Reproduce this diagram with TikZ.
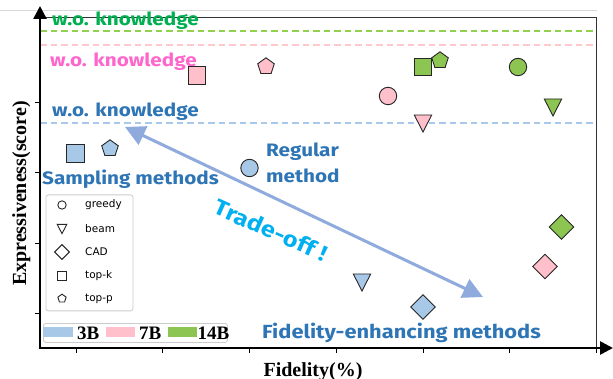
\documentclass[tikz,border=0pt]{standalone}
\usepackage{fontspec}
\setmainfont{Liberation Serif}
\newfontfamily\handf{Fira Sans Bold}[FakeStretch=1.15]
\newfontfamily\legf{DejaVu Sans}
\usetikzlibrary{arrows.meta}

\definecolor{kblue}{HTML}{2E75B6}
\definecolor{kgreen}{HTML}{00B050}
\definecolor{kpink}{HTML}{FF66CC}
\definecolor{kcyan}{HTML}{00B0F0}
\definecolor{fblue}{HTML}{A8C8E8}
\definecolor{fpink}{HTML}{FFC0CB}
\definecolor{fgreen}{HTML}{8DC553}
\definecolor{dgreen}{HTML}{92D050}
\definecolor{dpink}{HTML}{FFC7CE}
\definecolor{dblue}{HTML}{A9C9EC}
\definecolor{arrowc}{HTML}{8FAADC}

\tikzset{
  mk/.style={draw=black!85, line width=0.9},
  pics/mcirc/.style={code={\draw[mk,fill=#1] (0,0) circle (8.7);}},
  pics/msq/.style={code={\draw[mk,fill=#1] (-8.7,-8.7) rectangle (8.7,8.7);}},
  pics/mtri/.style={code={\draw[mk,fill=#1] (-8.7,-8.5) -- (8.7,-8.5) -- (0,8.5) -- cycle;}},
  pics/mdiam/.style={code={\draw[mk,fill=#1] (0,-12.3) -- (12.3,0) -- (0,12.3) -- (-12.3,0) -- cycle;}},
  pics/mpent/.style={code={\draw[mk,fill=#1] (-90:8.7) -- (-18:8.7) -- (54:8.7) -- (126:8.7) -- (198:8.7) -- cycle;}},
  hand/.style={font=\handf\fontsize{18}{21}\selectfont, inner sep=0pt},
  legtext/.style={font=\legf\fontsize{10.5}{12}\selectfont, anchor=west, inner sep=0pt},
  sizetext/.style={font=\bfseries\fontsize{19}{21}\selectfont, anchor=base west, inner sep=0pt},
  axlabel/.style={font=\bfseries\fontsize{20}{22}\selectfont, inner sep=0pt, anchor=base},
  refline/.style={dashed, dash pattern=on 6.5pt off 4pt, line width=1.3},
  tick/.style={line width=0.8, black},
  axis/.style={line width=2.6, black, -{Triangle[length=13,width=13]}},
  legbox/.style={draw=black!20, line width=0.8, rounded corners=2.5pt, anchor=north west, inner sep=0pt}
}

\begin{document}
\begin{tikzpicture}[x=1pt,y=-1pt]
\useasboundingbox (0,0) rectangle (613,379);
\fill[white] (0,0) rectangle (613,379);

% thin rule above the plot
\draw[black!15, line width=0.8] (0,10) -- (597,10);

% plot frame
\draw[black!80, line width=0.8] (40,17) rectangle (596,348);

% reference levels without knowledge
\draw[refline, dgreen] (40,31) -- (596,31);
\draw[refline, dpink] (40,45) -- (596,45);
\draw[refline, dblue] (40,123) -- (596,123);

\node[hand, text=kgreen, anchor=base west] (wg) at (52,26) {w.o. knowledge};
\node[hand, text=kpink, anchor=base west] (wp) at (50,67) {w.o. knowledge};
\node[hand, text=kblue, anchor=base west] (wb) at (52,117) {w.o. knowledge};

% ticks
\foreach \yy in {102,172,243,313} \draw[tick] (35,\yy) -- (40,\yy);
\foreach \xx in {76,162,249,336,423,509,596} \draw[tick] (\xx,348) -- (\xx,353);

% axes
\draw[axis] (40,349.3) -- (40,6);
\draw[axis] (38.7,348) -- (613,348);

% trade-off arrow
\coordinate (hiexp) at (125,127);
\coordinate (hifid) at (483,297);
\draw[arrowc, line width=3, {Triangle[length=20,width=20]}-{Triangle[length=20,width=20]}] (hiexp) -- (hifid);

% 3B
\pic (b3sq) at (75.5,153.5) {msq=fblue};
\pic (b3pe) at (110,148.5) {mpent=fblue};
\pic (b3ci) at (249.5,168) {mcirc=fblue};
\pic (b3tr) at (362,282.5) {mtri=fblue};
\pic (b3di) at (423,307) {mdiam=fblue};
% 7B
\pic (b7sq) at (197,75.5) {msq=fpink};
\pic (b7pe) at (266,66.5) {mpent=fpink};
\pic (b7ci) at (388,96) {mcirc=fpink};
\pic (b7tr) at (423,123.5) {mtri=fpink};
\pic (b7di) at (545,266.5) {mdiam=fpink};
% 14B
\pic (b14sq) at (423,67) {msq=fgreen};
\pic (b14pe) at (440,60.5) {mpent=fgreen};
\pic (b14ci) at (518,67) {mcirc=fgreen};
\pic (b14tr) at (553,107.5) {mtri=fgreen};
\pic (b14di) at (561.5,227) {mdiam=fgreen};

% annotations
\node[hand, text=kblue, anchor=base west] (samp) at (42,185) {Sampling methods};
\node[hand, text=kblue, anchor=base west] (reg1) at (266,157) {Regular};
\node[hand, text=kblue, anchor=base west] (reg2) at (266,183) {method};
\node[hand, text=kblue, anchor=base west, font=\handf\fontsize{19}{21}\selectfont] (fid) at (262,338) {Fidelity-enhancing methods};
\node[hand, text=kcyan, font=\handf\fontsize{22}{24}\selectfont, rotate=-24] (trade) at (271,230) {Trade-off !};

% marker legend
\node[legbox, minimum width=87pt, minimum height=116pt] (mleg) at (45.5,194.5) {};
\pic[scale=0.48] (lci) at (62,205) {mcirc=white};
\pic[scale=0.55] (ltr) at (62,229) {mtri=white};
\pic[scale=0.6] (ldi) at (62,252) {mdiam=white};
\pic[scale=0.52] (lsq) at (62,276) {msq=white};
\pic[scale=0.5] (lpe) at (62,298.5) {mpent=white};
\node[legtext] (tgreedy) at (85,205) {greedy};
\node[legtext] (tbeam) at (85,229) {beam};
\node[legtext] (tcad) at (85,252) {CAD};
\node[legtext] (ttopk) at (85,276) {top-k};
\node[legtext] (ttopp) at (85,299) {top-p};

% model-size legend
\node[legbox, minimum width=184pt, minimum height=19pt, fill=white] (sleg) at (43,323) {};
\fill[fblue] (43,327) rectangle (73,337);
\node[sizetext] (t3b) at (77,339) {3B};
\fill[fpink] (106,327) rectangle (135,337);
\node[sizetext] (t7b) at (139,339) {7B};
\fill[fgreen] (168,327) rectangle (197,337);
\node[sizetext] (t14b) at (197.5,339) {14B};

% axis labels
\node[axlabel] (xlab) at (313,376) {Fidelity(\%)};
\node[axlabel, rotate=90] (ylab) at (26,193.5) {Expressiveness(score)};
\end{tikzpicture}
\end{document}
